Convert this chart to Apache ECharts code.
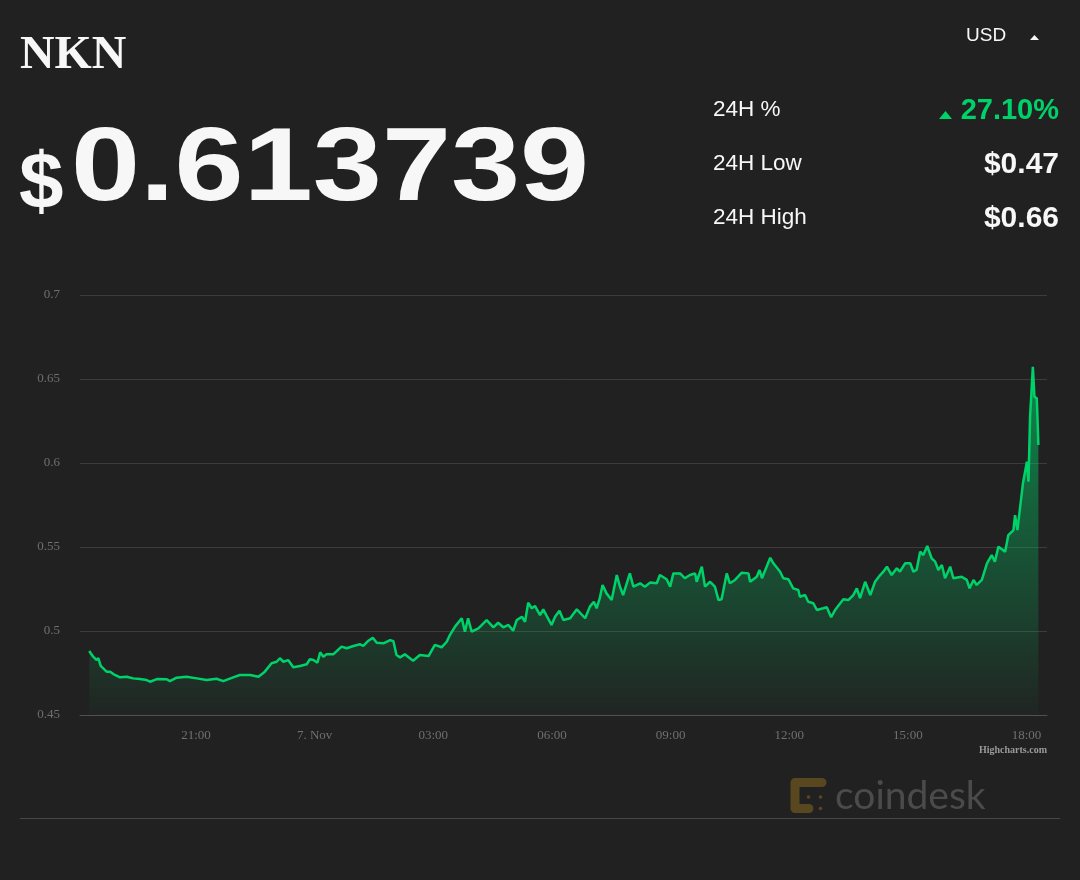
<!DOCTYPE html>
<html>
<head>
<meta charset="utf-8">
<script src="https://cdn.jsdelivr.net/npm/echarts@6/dist/echarts.min.js"></script>
<style>
html,body{margin:0;padding:0;background:#212121;}
#chart{width:1080px;height:880px;}
</style>
</head>
<body>
<div id="chart"></div>
<script>
// Time in hours since 6 Nov 00:00
const times = [18.30,18.40,18.49,18.53,18.59,18.74,18.83,18.91,19.08,19.25,19.41,19.58,19.75,19.84,20.01,20.26,20.34,20.51,20.76,21.02,21.27,21.52,21.69,21.94,22.11,22.37,22.58,22.74,22.91,23.04,23.12,23.21,23.33,23.46,23.63,23.80,23.88,23.97,24.07,24.14,24.22,24.30,24.47,24.68,24.81,24.98,25.15,25.23,25.36,25.47,25.57,25.74,25.91,25.99,26.07,26.16,26.28,26.49,26.66,26.88,27.04,27.21,27.34,27.42,27.55,27.72,27.80,27.88,27.97,28.14,28.35,28.52,28.64,28.77,28.90,29.02,29.11,29.24,29.32,29.40,29.49,29.57,29.70,29.78,29.87,29.99,30.08,30.19,30.29,30.46,30.63,30.84,30.96,31.06,31.13,31.21,31.28,31.38,31.51,31.64,31.72,31.80,31.97,32.06,32.23,32.35,32.48,32.65,32.73,32.90,32.99,33.07,33.24,33.36,33.49,33.62,33.66,33.79,33.87,34.00,34.12,34.21,34.29,34.42,34.50,34.63,34.80,34.97,35.01,35.18,35.25,35.31,35.52,35.60,35.77,35.85,35.98,36.10,36.23,36.27,36.40,36.48,36.61,36.70,36.86,36.95,37.06,37.16,37.29,37.37,37.50,37.62,37.71,37.79,37.92,38.05,38.17,38.30,38.38,38.47,38.59,38.72,38.80,38.93,39.06,39.14,39.22,39.31,39.39,39.49,39.60,39.69,39.77,39.86,39.94,40.07,40.15,40.36,40.49,40.56,40.66,40.74,40.87,41.00,41.12,41.20,41.29,41.46,41.54,41.67,41.71,41.77,41.84,41.91,41.96,42.01,42.05,42.09,42.16,42.20,42.26,42.30];
const prices = [0.4881,0.4847,0.4827,0.4839,0.4792,0.4758,0.4758,0.4744,0.4724,0.4728,0.4718,0.4714,0.4708,0.4698,0.4714,0.4713,0.4702,0.4722,0.4728,0.4718,0.4708,0.4716,0.4702,0.4724,0.4738,0.4738,0.4728,0.4758,0.4808,0.4817,0.4838,0.4817,0.4827,0.4784,0.4792,0.4802,0.4832,0.4827,0.4811,0.4873,0.4847,0.4861,0.4861,0.4907,0.4897,0.4911,0.4921,0.4911,0.4942,0.4960,0.4930,0.4927,0.4946,0.4940,0.4857,0.4843,0.4861,0.4823,0.4857,0.4851,0.4917,0.4903,0.4936,0.4976,0.5026,0.5076,0.4996,0.5076,0.4996,0.5016,0.5065,0.5022,0.5049,0.5022,0.5036,0.5002,0.5065,0.5085,0.5055,0.5168,0.5135,0.5149,0.5095,0.5129,0.5089,0.5036,0.5085,0.5121,0.5065,0.5076,0.5129,0.5076,0.5145,0.5174,0.5135,0.5195,0.5274,0.5224,0.5185,0.5333,0.5264,0.5214,0.5343,0.5264,0.5284,0.5264,0.5288,0.5284,0.5333,0.5308,0.5264,0.5343,0.5343,0.5314,0.5333,0.5343,0.5293,0.5383,0.5264,0.5293,0.5264,0.5185,0.5189,0.5343,0.5284,0.5304,0.5347,0.5343,0.5293,0.5323,0.5363,0.5314,0.5436,0.5403,0.5353,0.5314,0.5308,0.5254,0.5244,0.5204,0.5214,0.5174,0.5165,0.5125,0.5135,0.5141,0.5082,0.5125,0.5165,0.5189,0.5185,0.5214,0.5254,0.5195,0.5293,0.5214,0.5293,0.5333,0.5353,0.5383,0.5333,0.5373,0.5353,0.5403,0.5403,0.5353,0.5363,0.5472,0.5452,0.5506,0.5433,0.5413,0.5363,0.5393,0.5314,0.5383,0.5314,0.5323,0.5304,0.5254,0.5304,0.5274,0.5304,0.5403,0.5452,0.5413,0.5502,0.5472,0.5571,0.5601,0.5690,0.5601,0.5740,0.5879,0.5889,0.6008,0.5889,0.6276,0.6573,0.6395,0.6385,0.6107];
const xTicks = [21,24,27,30,33,36,39,42];
const yTicks = [0.45,0.5,0.55,0.6,0.65,0.7];
const coinName = 'NKN';
const priceText = '0.613739';
const statLabels = ['24H %','24H Low','24H High'];
const statValues = ['27.10%','$0.47','$0.66'];

const seriesData = times.map((t,i)=>[t,prices[i]]);
const pad = n => (n<10?'0':'')+n;

const chart = echarts.init(document.getElementById('chart'), null, {renderer:'canvas'});
const white = '#f7f7f7';
const green = '#00d26a';
const sans = '"Liberation Sans", Arial, sans-serif';
const serif = '"Liberation Serif", "Times New Roman", serif';

const statY = [109.5, 164, 218];
const graphics = [
  {type:'text', x:20, y:69.5, scaleX:0.84, scaleY:0.83, style:{text:coinName, x:0, y:-16.5, font:'bold 57px '+serif, fill:white, align:'left', verticalAlign:'middle'}},
  {type:'text', x:19, y:186, style:{text:'$', font:'bold 80px '+sans, fill:white, align:'left', verticalAlign:'middle'}},
  {type:'text', x:71, y:208, scaleX:1.01, scaleY:0.85, style:{text:priceText, x:0, y:-43, font:'bold 123px '+sans, fill:white, align:'left', verticalAlign:'middle'}},
  {type:'text', x:966, y:35.5, style:{text:'USD', font:'19px '+sans, fill:white, align:'left', verticalAlign:'middle'}},
  {type:'polygon', shape:{points:[[1030,40],[1039,40],[1034.5,35]]}, style:{fill:white}},
  {type:'polygon', shape:{points:[[939,119],[952,119],[945.5,111]]}, style:{fill:green}},
  {type:'line', shape:{x1:20,y1:818.5,x2:1060,y2:818.5}, style:{stroke:'#474747', lineWidth:1}},
  {type:'text', x:1047, y:750, style:{text:'Highcharts.com', font:'bold 10px '+serif, fill:'#9a9a9a', align:'right', verticalAlign:'middle'}},
  {type:'text', x:835, y:796, style:{text:'coindesk', font:'39px Lato, "Open Sans", sans-serif', fill:'#4b4b4b', align:'left', verticalAlign:'middle'}},
  {type:'polyline', shape:{points:[[809,808.5],[795,808.5],[795,782.5],[822,782.5]]}, style:{stroke:'#594720', lineWidth:9, lineCap:'round', lineJoin:'round', fill:null}},
  {type:'circle', shape:{cx:808.5,cy:797,r:1.8}, style:{fill:'#594720'}},
  {type:'circle', shape:{cx:820.5,cy:797,r:1.8}, style:{fill:'#594720'}},
  {type:'circle', shape:{cx:820.5,cy:808.5,r:1.8}, style:{fill:'#594720'}}
];
statLabels.forEach((s,i)=>{
  graphics.push({type:'text', x:713, y:statY[i], style:{text:s, font:'22.5px '+sans, fill:white, align:'left', verticalAlign:'middle'}});
  graphics.push({type:'text', x:1059, y:statY[i]+1, style:{text:statValues[i], font:'bold '+(i===0?29:30)+'px '+sans, fill: i===0?green:white, align:'right', verticalAlign:'middle'}});
});

chart.setOption({
  backgroundColor:'#212121',
  animation:false,
  grid:{left:80, right:33, top:295, bottom:165, containLabel:false},
  xAxis:{
    type:'value', min:18.067, max:42.518,
    axisLine:{show:true, lineStyle:{color:'#505050', width:1}},
    axisTick:{show:false},
    splitLine:{show:false},
    axisLabel:{
      customValues:xTicks,
      color:'#707070', fontFamily:serif, fontSize:13, margin:14,
      formatter:v=>{ const h=Math.round(v)%24; return Math.round(v)===24?'7. Nov':pad(h)+':00'; }
    }
  },
  yAxis:{
    type:'value', min:yTicks[0], max:yTicks[yTicks.length-1], interval:0.05,
    axisLine:{show:false}, axisTick:{show:false},
    splitLine:{lineStyle:{color:'#3c3c3c', width:1}},
    axisLabel:{color:'#707070', fontFamily:serif, fontSize:13, margin:20,
      formatter:v=>String(+v.toFixed(2))}
  },
  graphic:graphics,
  series:[{
    type:'line', data:seriesData, showSymbol:false, smooth:false,
    lineStyle:{color:green, width:2.5},
    itemStyle:{color:green},
    areaStyle:{color:new echarts.graphic.LinearGradient(0,295,0,715,[
      {offset:0,color:'rgba(0,210,106,1)'},
      {offset:1,color:'rgba(0,210,106,0.03)'}
    ], true)}
  }]
});
</script>
</body>
</html>
